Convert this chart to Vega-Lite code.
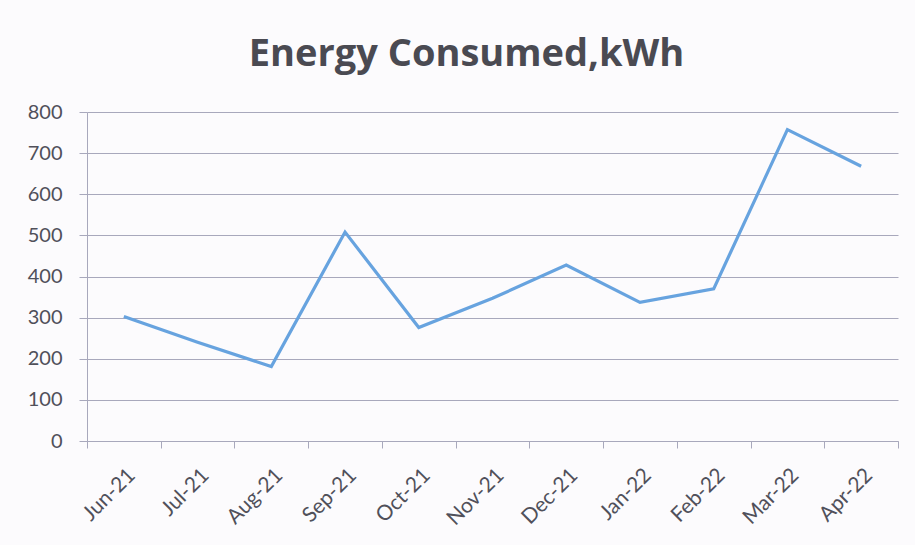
{
  "$schema": "https://vega.github.io/schema/vega-lite/v6.json",
  "width": 811,
  "height": 329,
  "autosize": {"type": "none"},
  "padding": {"left": 87, "top": 112, "right": 17, "bottom": 104},
  "background": "#fcfbfd",
  "title": {
    "text": "Energy Consumed,kWh",
    "font": "Open Sans",
    "fontSize": 38,
    "fontWeight": "bold",
    "color": "#4a4a52",
    "anchor": "middle",
    "dx": -26,
    "offset": 28
  },
  "data": {
    "values": [
      {"month": "Jun-21", "kwh": 303},
      {"month": "Jul-21", "kwh": 240},
      {"month": "Aug-21", "kwh": 181},
      {"month": "Sep-21", "kwh": 508},
      {"month": "Oct-21", "kwh": 276},
      {"month": "Nov-21", "kwh": 347},
      {"month": "Dec-21", "kwh": 428},
      {"month": "Jan-22", "kwh": 337},
      {"month": "Feb-22", "kwh": 370},
      {"month": "Mar-22", "kwh": 757},
      {"month": "Apr-22", "kwh": 668}
    ]
  },
  "mark": {"type": "line", "color": "#67a3df", "strokeWidth": 3.2, "strokeJoin": "miter"},
  "encoding": {
    "x": {
      "field": "month",
      "type": "ordinal",
      "sort": null,
      "bandPosition": 0.5,
      "scale": {"type": "band", "paddingInner": 0, "paddingOuter": 0},
      "axis": {
        "title": null,
        "tickBand": "extent",
        "labelAngle": -45,
        "labelFont": "Lato",
        "labelFontSize": 21,
        "labelColor": "#50505a",
        "labelPadding": 16,
        "labelOverlap": false,
        "domainColor": "#a8a8bc",
        "tickColor": "#a8a8bc",
        "tickSize": 7,
        "grid": false
      }
    },
    "y": {
      "field": "kwh",
      "type": "quantitative",
      "scale": {"domain": [0, 800], "nice": false},
      "axis": {
        "title": null,
        "values": [0, 100, 200, 300, 400, 500, 600, 700, 800],
        "labelFont": "Lato",
        "labelFontSize": 20,
        "labelColor": "#50505a",
        "labelPadding": 17,
        "gridColor": "#a8a8bc",
        "domainColor": "#a8a8bc",
        "tickColor": "#a8a8bc",
        "tickSize": 8
      }
    }
  },
  "config": {"view": {"stroke": null}}
}
